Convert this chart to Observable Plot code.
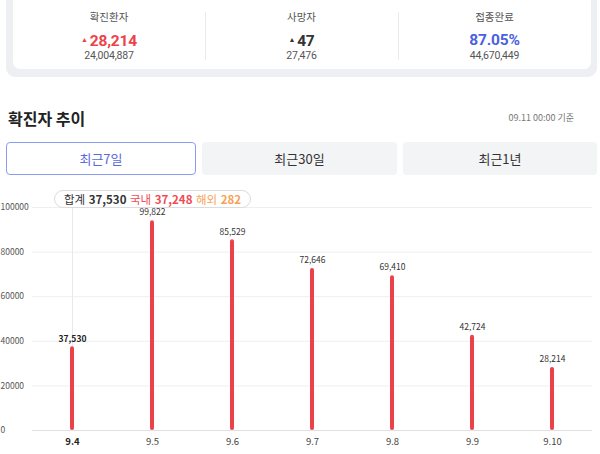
<!DOCTYPE html>
<html><head><meta charset="utf-8">
<script src="https://cdn.jsdelivr.net/npm/d3@7"></script>
<script src="https://cdn.jsdelivr.net/npm/@observablehq/plot@0.6"></script>
<style>
html,body{margin:0;padding:0;background:#fff;width:600px;height:454px;overflow:hidden;font-family:"Noto Sans CJK KR","Noto Sans",sans-serif;}
#wrap{position:relative;width:600px;height:454px;}
.abs{position:absolute;}
#outer{left:6px;top:-10px;width:591px;height:87px;background:#eeeff3;border-radius:9px;}
#card{left:13px;top:-6px;width:578px;height:75px;background:#fff;border-radius:7px;}
.col{position:absolute;top:0;height:69px;text-align:center;}
.lab{position:absolute;left:0;right:0;top:10px;font-size:10.5px;color:#555;line-height:13px;}
.val{position:absolute;left:0;right:0;top:32px;font-family:Roboto,"Noto Sans",sans-serif;font-size:15.5px;font-weight:bold;line-height:16px;letter-spacing:-0.2px;}
.sub{position:absolute;left:0;right:0;top:49px;font-family:Roboto,"Noto Sans",sans-serif;font-size:10.5px;color:#555;line-height:13px;letter-spacing:-0.2px;}
.tri{font-size:7px;vertical-align:4px;margin-right:2px;}
.div{position:absolute;top:12px;width:1px;height:48px;background:#eaeaea;}
#title{left:8px;top:107px;font-size:16px;font-weight:bold;color:#222;line-height:22px;}
#stamp{right:26px;top:112px;font-size:9px;color:#777;line-height:12px;}
.tab{position:absolute;top:142px;height:33px;line-height:33px;text-align:center;font-size:13px;color:#333;background:#f3f4f6;border-radius:4px;box-sizing:border-box;}
.tab.on{background:#fff;border:1px solid #8c9cf0;color:#5a6ad8;line-height:31px;}
#chart{left:0;top:185px;}
#tip{position:absolute;height:18px;line-height:16px;padding:0 9px;border:1px solid #dcdcdc;border-radius:10px;background:#fff;font-size:11.5px;white-space:nowrap;box-sizing:border-box;word-spacing:1px;}
#tip b{font-weight:bold;}
</style></head>
<body><div id="wrap">
<div id="outer" class="abs"></div>
<div id="card" class="abs"></div>
<div id="stats"></div>
<div id="title" class="abs"></div>
<div id="stamp" class="abs"></div>
<div id="tabs"></div>
<div id="chart" class="abs"></div>
</div>
<script>
// ---- data ----
const days = ["9.4","9.5","9.6","9.7","9.8","9.9","9.10"];
const totals = [37530, 99822, 85529, 72646, 69410, 42724, 28214];
// bar heights as drawn in the reference (9.5 bar is drawn shorter than its label)
const barHeights = [37530, 94100, 85529, 72646, 69410, 42724, 28214];
const yTicks = [0, 20000, 40000, 60000, 80000, 100000];
const selectedDay = "9.4";
const tipTotal = 37530, tipDomestic = 37248, tipOverseas = 282;

const statLabels = ["확진환자", "사망자", "접종완료"];
const statValues = ["28,214", "47", "87.05%"];
const statArrows = [true, true, false];
const statSubs = ["24,004,887", "27,476", "44,670,449"];
const statColors = ["#ec4249", "#333", "#4b5fe0"];

const tabLabels = ["최근7일", "최근30일", "최근1년"];
const titleText = "확진자 추이";
const stampText = "09.11 00:00 기준";

const fmt = d3.format(",");

// ---- header ----
const stats = document.getElementById("stats");
const colX = [13, 205, 398, 591];
statLabels.forEach((l, i) => {
  const c = document.createElement("div");
  c.className = "col";
  c.style.left = colX[i] + "px";
  c.style.width = (colX[i+1] - colX[i]) + "px";
  c.innerHTML = `<div class="lab">${l}</div>
   <div class="val" style="color:${statColors[i]}">${statArrows[i] ? '<span class="tri">▲</span>' : ''}${statValues[i]}</div>
   <div class="sub">${statSubs[i]}</div>`;
  stats.appendChild(c);
  if (i > 0) {
    const d = document.createElement("div");
    d.className = "div"; d.style.left = colX[i] + "px";
    stats.appendChild(d);
  }
});
document.getElementById("title").textContent = titleText;
document.getElementById("stamp").textContent = stampText;
const tabs = document.getElementById("tabs");
const tabX = [[6,196],[202,397],[403,597]];
tabLabels.forEach((t, i) => {
  const d = document.createElement("div");
  d.className = "tab" + (i === 0 ? " on" : "");
  d.style.left = tabX[i][0] + "px";
  d.style.width = (tabX[i][1] - tabX[i][0]) + "px";
  d.textContent = t;
  tabs.appendChild(d);
});

// ---- chart ----
const data = days.map((d, i) => ({day: d, total: totals[i], h: barHeights[i]}));
const others = data.filter(d => d.day !== selectedDay);
const sel = data.filter(d => d.day === selectedDay);

const chart = Plot.plot({
  width: 600,
  height: 269,
  marginTop: 22,
  marginBottom: 24,
  marginLeft: 32,
  marginRight: 8,
  style: {fontFamily: "'Noto Sans CJK KR','Noto Sans',sans-serif", background: "transparent"},
  x: {domain: days, padding: 0, label: null},
  y: {domain: [0, 100000], label: null},
  marks: [
    Plot.gridY(yTicks, {stroke: "#efefef", strokeOpacity: 1}),
    Plot.axisY(yTicks, {tickSize: 0, textAnchor: "start", dx: -23, fontSize: 8.5, fill: "#555", tickFormat: d => String(d), label: null}),
    Plot.ruleX(sel, {x: "day", y1: 0, y2: 100000, stroke: "#e8e8e8", strokeWidth: 1}),
    Plot.ruleY([0], {stroke: "#e2e2e2"}),
    Plot.barY(data, {x: "day", y: "h", fill: "#ea4248", insetLeft: 38, insetRight: 38, rx: 2}),
    Plot.text(others, {x: "day", y: "h", text: d => fmt(d.total), dy: -8, fontSize: 8.5, fill: "#333"}),
    Plot.text(sel, {x: "day", y: "h", text: d => fmt(d.total), dy: -8, fontSize: 8.5, fill: "#222", fontWeight: "bold"}),
    Plot.axisX(days.filter(d => d !== selectedDay), {tickSize: 0, tickPadding: 8, fontSize: 9.5, fill: "#444", label: null}),
    Plot.axisX([selectedDay], {tickSize: 0, tickPadding: 8, fontSize: 9.5, fill: "#222", fontWeight: "bold", label: null})
  ]
});
const host = document.getElementById("chart");
host.appendChild(chart);

// tooltip positioned from the scales
const xs = chart.scale("x");
const cx = xs.apply(selectedDay) + xs.bandwidth / 2;
const tip = document.createElement("div");
tip.id = "tip";
tip.innerHTML = `<span style="color:#333">합계 <b>${fmt(tipTotal)}</b></span> <span style="color:#ef4b55">국내 <b>${fmt(tipDomestic)}</b></span> <span style="color:#f7a257">해외 <b>${fmt(tipOverseas)}</b></span>`;
tip.style.left = (cx - 18) + "px";
tip.style.top = "5px";
host.appendChild(tip);
</script>
</body></html>
